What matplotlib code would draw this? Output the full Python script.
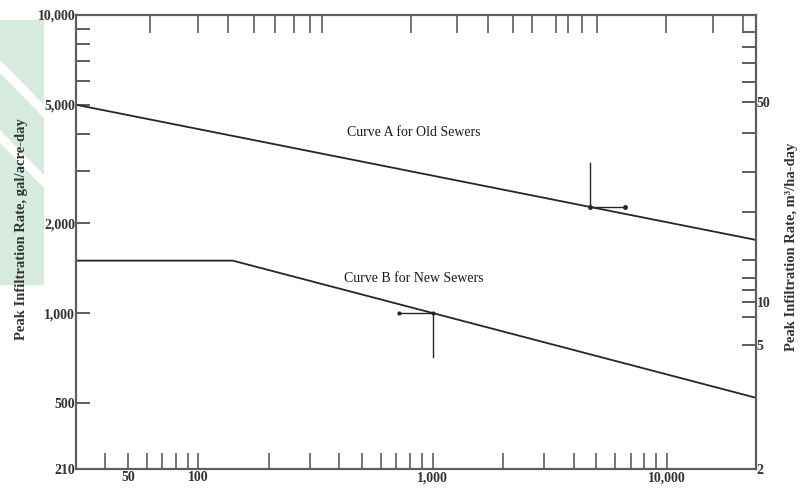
import matplotlib.pyplot as plt
from matplotlib.ticker import FixedLocator, FixedFormatter, NullFormatter
from matplotlib.patches import Polygon

# curves (x: sewered area, y: gal/acre-day)
curve_a_x = [30, 24000]
curve_a_y = [5000, 1760]
curve_b_x = [30, 140, 24000]
curve_b_y = [1500, 1500, 520]

# reading marks drawn on each curve
mark_a_x = [4700, 4700, 6600]
mark_a_y = [3200, 2270, 2270]
mark_b_x = [720, 1000, 1000]
mark_b_y = [1000, 1000, 710]

x_range = [30, 24000]
y_range = [300, 10000]

left_ticks = [300, 500, 1000, 2000, 5000, 10000]
left_labels = ["210", "500", "1,000", "2,000", "5,000", "10,000"]
left_minor = [3000, 4000, 6000, 7000, 8000, 9000]

bottom_ticks = [50, 100, 1000, 10000]
bottom_labels = ["50", "100", "1,000", "10,000"]
bottom_minor = [40, 60, 70, 80, 90, 200, 300, 400, 500, 600, 700, 800, 900,
                2000, 3000, 4000, 5000, 6000, 7000, 8000, 9000]

# metric scale on the right, ticks sit where the scan puts them
right_ticks = [300, 780, 1090, 5110]
right_labels = ["2", "5", "10", "50"]
right_minor = [970, 1195, 1310, 1506, 2180, 2970, 4020, 5960, 6900, 7810, 8770]

top_minor = [62, 100, 134, 173, 213, 257, 298, 336, 805, 1267, 1720, 2200,
             2650, 3355, 3780, 4335, 5025, 9900, 15700, 21100]

plt.rcParams['font.family'] = ['Liberation Serif', 'DejaVu Serif']

fig = plt.figure(figsize=(8, 4.95), dpi=100)
ax = fig.add_axes([76 / 800, 1 - 469 / 495, 680 / 800, 454 / 495])

# faint green watermark at the left edge
wm = '#d6ebde'
fig.patches.append(Polygon([[0, 1 - 20 / 495], [0.055, 1 - 20 / 495], [0.055, 1 - 285 / 495],
                            [0, 1 - 285 / 495]], closed=True, transform=fig.transFigure,
                           facecolor=wm, edgecolor='none', zorder=-5))
for y0 in [60, 130]:
    fig.patches.append(Polygon([[0, 1 - y0 / 495], [0.055, 1 - (y0 + 45) / 495],
                                [0.055, 1 - (y0 + 58) / 495], [0, 1 - (y0 + 13) / 495]],
                               closed=True, transform=fig.transFigure,
                               facecolor='white', edgecolor='none', zorder=-4))

line_col = '#262626'
ax.plot(curve_a_x, curve_a_y, color=line_col, lw=1.3)
ax.plot(curve_b_x, curve_b_y, color=line_col, lw=1.3)
ax.plot(mark_a_x, mark_a_y, color=line_col, lw=1.0)
ax.plot(mark_b_x, mark_b_y, color=line_col, lw=1.0)
ax.plot(mark_a_x[1:], mark_a_y[1:], 'o', color=line_col, ms=2.5)
ax.plot(mark_b_x[:2], mark_b_y[:2], 'o', color=line_col, ms=2.0)

ax.text(830, 4020, "Curve A for Old Sewers", ha='center', va='center', fontsize=10, color='#1a1a1a')
ax.text(830, 1310, "Curve B for New Sewers", ha='center', va='center', fontsize=10, color='#1a1a1a')

ax.set_xscale('log')
ax.set_yscale('log')
ax.set_xlim(x_range)
ax.set_ylim(y_range)

spine_col = '#5e5e5e'
for s in ax.spines.values():
    s.set_color(spine_col)
    s.set_linewidth(1.6)

ax.yaxis.set_major_locator(FixedLocator(left_ticks))
ax.yaxis.set_major_formatter(FixedFormatter(left_labels))
ax.yaxis.set_minor_locator(FixedLocator(left_minor))
ax.yaxis.set_minor_formatter(NullFormatter())
ax.xaxis.set_major_locator(FixedLocator(bottom_ticks))
ax.xaxis.set_major_formatter(FixedFormatter(bottom_labels))
ax.xaxis.set_minor_locator(FixedLocator(bottom_minor))
ax.xaxis.set_minor_formatter(NullFormatter())

ax.tick_params(axis='y', which='both', direction='in', length=10, width=1.4,
               color=spine_col, labelsize=10, pad=0.5)
ax.tick_params(axis='x', which='both', direction='in', length=11.5, width=1.2,
               color=spine_col, labelsize=10, pad=1.5)
for lab in ax.get_xticklabels() + ax.get_yticklabels():
    lab.set_fontweight('bold')
    lab.set_color('#333')

# right axis in m3/ha-day
axr = ax.twinx()
axr.set_yscale('log')
axr.set_ylim(y_range)
axr.yaxis.set_major_locator(FixedLocator(right_ticks))
axr.yaxis.set_major_formatter(FixedFormatter(right_labels))
axr.yaxis.set_minor_locator(FixedLocator(right_minor))
axr.yaxis.set_minor_formatter(NullFormatter())
axr.tick_params(axis='y', which='both', direction='in', length=10, width=1.4,
                color=spine_col, labelsize=10, pad=0.5)
for lab in axr.get_yticklabels():
    lab.set_fontweight('bold')
    lab.set_color('#333')
for s in axr.spines.values():
    s.set_visible(False)

# top axis, only ticks survive on the scan
axt = ax.twiny()
axt.set_xscale('log')
axt.set_xlim(x_range)
axt.xaxis.set_major_locator(FixedLocator([]))
axt.xaxis.set_minor_locator(FixedLocator(top_minor))
axt.xaxis.set_minor_formatter(NullFormatter())
axt.tick_params(axis='x', which='both', direction='in', length=13, width=1.2, color=spine_col)
for s in axt.spines.values():
    s.set_visible(False)

fig.text(22 / 800, 1 - 229 / 495, "Peak Infiltration Rate, gal/acre-day", rotation=90,
         ha='center', va='center', fontsize=10.5, fontweight='bold', color='#333')
fig.text(792 / 800, 1 - 247 / 495, "Peak Infiltration Rate, m\u00b3/ha-day", rotation=90,
         ha='center', va='center', fontsize=10.5, fontweight='bold', color='#333')

fig.savefig('out.png', dpi=100)
